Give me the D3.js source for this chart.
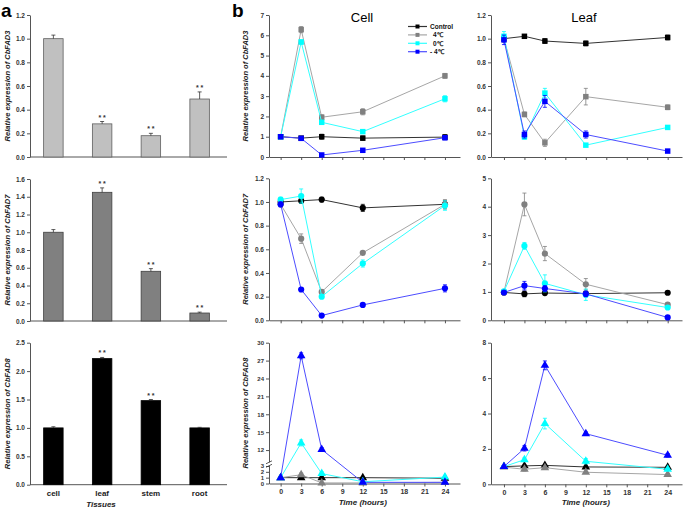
<!DOCTYPE html>
<html>
<head>
<meta charset="utf-8">
<script src="https://cdnjs.cloudflare.com/ajax/libs/d3/7.8.5/d3.min.js"></script>
<style>
  body { margin: 0; background: #fff; }
  text { font-family: "Liberation Sans", Arial, sans-serif; }
</style>
</head>
<body>
<div class="chart"></div>
<script>
// ---- data: panel a (tissues) ----
const tissues = ['cell', 'leaf', 'stem', 'root'];
const fad3Tissue = [1.0, 0.28, 0.18, 0.49];
const fad3TissueErr = [0.03, 0.02, 0.02, 0.06];
const fad3Sig = [false, true, true, true];
const fad7Tissue = [1.0, 1.45, 0.56, 0.09];
const fad7TissueErr = [0.03, 0.05, 0.03, 0.01];
const fad7Sig = [false, true, true, true];
const fad8Tissue = [1.0, 2.22, 1.48, 1.0];
const fad8TissueErr = [0.02, 0.02, 0.02, 0.01];
const fad8Sig = [false, true, true, false];

// ---- data: panel b (time course), rows = Control, 4℃, 0℃, -4℃ ----
const hours = [0, 3, 6, 12, 24];
const hourTicks = [0, 3, 6, 9, 12, 15, 18, 21, 24];
const treatments = ['Control', '4℃', '0℃', '- 4℃'];

const cellFAD3 = [
  [1.0, 0.93, 1.0, 0.93, 0.98],
  [1.0, 6.28, 1.96, 2.23, 4.0],
  [1.0, 5.67, 1.71, 1.25, 2.87],
  [1.0, 0.92, 0.1, 0.33, 0.95]
];
const cellFAD3Err = [
  [0.05, 0.05, 0.12, 0.1, 0.12],
  [0.05, 0.15, 0.12, 0.15, 0.12],
  [0.05, 0.1, 0.08, 0.08, 0.15],
  [0.05, 0.05, 0.03, 0.05, 0.1]
];
const leafFAD3 = [
  [1.0, 1.02, 0.98, 0.96, 1.01],
  [1.0, 0.36, 0.12, 0.51, 0.42],
  [1.02, 0.17, 0.54, 0.1, 0.25],
  [0.99, 0.19, 0.47, 0.19, 0.05]
];
const leafFAD3Err = [
  [0.02, 0.01, 0.02, 0.02, 0.02],
  [0.03, 0.02, 0.03, 0.07, 0.02],
  [0.04, 0.02, 0.04, 0.01, 0.01],
  [0.04, 0.03, 0.05, 0.03, 0.01]
];
const cellFAD7 = [
  [1.0, 1.01, 1.02, 0.95, 0.98],
  [0.98, 0.69, 0.24, 0.57, 0.98],
  [1.02, 1.05, 0.2, 0.48, 0.97],
  [0.98, 0.26, 0.04, 0.13, 0.27]
];
const cellFAD7Err = [
  [0.02, 0.02, 0.02, 0.03, 0.03],
  [0.02, 0.04, 0.02, 0.01, 0.04],
  [0.02, 0.06, 0.01, 0.03, 0.04],
  [0.02, 0.01, 0.01, 0.01, 0.03]
];
const leafFAD7 = [
  [0.98, 0.93, 0.96, 0.94, 0.97],
  [1.0, 4.08, 2.35, 1.27, 0.55],
  [1.02, 2.62, 1.3, 0.9, 0.45],
  [0.98, 1.22, 1.12, 0.93, 0.1]
];
const leafFAD7Err = [
  [0.05, 0.1, 0.05, 0.05, 0.05],
  [0.05, 0.4, 0.25, 0.2, 0.05],
  [0.05, 0.12, 0.3, 0.2, 0.05],
  [0.05, 0.15, 0.1, 0.1, 0.05]
];
const cellFAD8 = [
  [1.0, 1.0, 1.0, 1.0, 0.9],
  [1.0, 1.5, 0.1, 0.1, 0.2],
  [1.0, 13.2, 1.7, 0.3, 1.1],
  [1.0, 27.8, 12.1, 0.2, 0.2]
];
const cellFAD8Err = [
  [0.1, 0.1, 0.1, 0.1, 0.1],
  [0.1, 0.3, 0.05, 0.05, 0.05],
  [0.1, 0.5, 0.3, 0.1, 0.3],
  [0.1, 0.5, 0.3, 0.05, 0.05]
];
const leafFAD8 = [
  [1.0, 1.04, 1.07, 0.98, 0.96],
  [0.97, 0.85, 0.94, 0.68, 0.55],
  [1.0, 1.39, 3.43, 1.3, 0.85],
  [1.0, 2.03, 6.72, 2.86, 1.64]
];
const leafFAD8Err = [
  [0.05, 0.05, 0.05, 0.05, 0.05],
  [0.05, 0.1, 0.05, 0.05, 0.05],
  [0.05, 0.1, 0.3, 0.15, 0.05],
  [0.05, 0.15, 0.25, 0.1, 0.1]
];

const markerColors = ['#000000', '#808080', '#00ffff', '#0000ff'];
const lineColors = ['#333333', '#a6a6a6', '#33ffff', '#4d4dff'];

let svg = d3.select('.chart')
  .append('svg')
    .attr('width', 685)
    .attr('height', 510);

// ---------- panel a ----------
svg.append('text').attr('x', 1).attr('y', 17)
  .style('font-size', '19px').style('font-weight', 'bold').text('a');

let xTissue = d3.scaleBand()
  .domain(tissues)
  .range([29, 224])
  .paddingInner(0.6)
  .paddingOuter(0.3);

let tissueRows = [
  { gene: 'CbFAD3', vals: fad3Tissue, err: fad3TissueErr, sig: fad3Sig, fill: '#c0c0c0', stroke: '#606060', max: 1.2, step: 0.2, fmt: '.1f', y0: 157, y1: 15 },
  { gene: 'CbFAD7', vals: fad7Tissue, err: fad7TissueErr, sig: fad7Sig, fill: '#808080', stroke: '#404040', max: 1.6, step: 0.2, fmt: '.1f', y0: 321, y1: 179 },
  { gene: 'CbFAD8', vals: fad8Tissue, err: fad8TissueErr, sig: fad8Sig, fill: '#000000', stroke: '#000000', max: 2.5, step: 0.5, fmt: '.1f', y0: 484.7, y1: 342.7 }
];

tissueRows.forEach((row, ri) => {
  let y = d3.scaleLinear().domain([0, row.max]).range([row.y0, row.y1]);
  let g = svg.append('g');

  let yAxis = d3.axisLeft(y)
    .tickValues(d3.range(0, row.max + 0.001, row.step))
    .tickFormat(d3.format(row.fmt))
    .tickSize(3)
    .tickSizeOuter(0)
    .tickPadding(2);
  let ya = g.append('g').attr('transform', 'translate(30,0)').call(yAxis);
  styleAxis(ya, 6.5);

  // x axis line
  g.append('line')
    .attr('x1', 30).attr('x2', 227)
    .attr('y1', row.y0).attr('y2', row.y0)
    .attr('stroke', '#555').attr('stroke-width', 1);

  tissues.forEach((t, i) => {
    let x = xTissue(t), w = xTissue.bandwidth(), cx = x + w / 2;
    let v = row.vals[i], e = row.err[i];
    g.append('rect')
      .attr('x', x).attr('y', y(v))
      .attr('width', w).attr('height', row.y0 - y(v))
      .attr('fill', row.fill)
      .attr('stroke', row.stroke).attr('stroke-width', 0.8);
    g.append('line')
      .attr('x1', cx).attr('x2', cx).attr('y1', y(v)).attr('y2', y(v + e))
      .attr('stroke', '#333').attr('stroke-width', 0.8);
    g.append('line')
      .attr('x1', cx - 2).attr('x2', cx + 2).attr('y1', y(v + e)).attr('y2', y(v + e))
      .attr('stroke', '#333').attr('stroke-width', 0.8);
    if (row.sig[i]) {
      g.append('text')
        .attr('x', cx).attr('y', y(v + e) - 2)
        .attr('text-anchor', 'middle')
        .style('font-size', '7px').style('font-weight', 'bold').style('fill', '#333')
        .text('* *');
    }
  });

  yLabel(10, (row.y0 + row.y1) / 2, row.gene);

  if (ri === 2) {
    tissues.forEach(t => {
      svg.append('text')
        .attr('x', xTissue(t) + xTissue.bandwidth() / 2).attr('y', 496)
        .attr('text-anchor', 'middle')
        .style('font-size', '8px').style('font-weight', 'bold').style('fill', '#222')
        .text(t);
    });
    svg.append('text')
      .attr('x', 101).attr('y', 507)
      .attr('text-anchor', 'middle')
      .style('font-size', '8px').style('font-weight', 'bold').style('font-style', 'italic').style('fill', '#222')
      .text('Tissues');
  }
});

// ---------- panel b ----------
svg.append('text').attr('x', 232).attr('y', 17)
  .style('font-size', '19px').style('font-weight', 'bold').text('b');
svg.append('text').attr('x', 362).attr('y', 22).attr('text-anchor', 'middle')
  .style('font-size', '13px').text('Cell');
svg.append('text').attr('x', 584).attr('y', 22).attr('text-anchor', 'middle')
  .style('font-size', '13px').text('Leaf');

let xCell = d3.scaleLinear().domain([-1.7, 26.2]).range([269, 460]);
let xLeaf = d3.scaleLinear().domain([-1.9, 26.1]).range([491, 682]);

let panels = [
  { x: xCell, data: cellFAD3, err: cellFAD3Err, y: d3.scaleLinear().domain([0, 7]).range([157, 15]), ticks: d3.range(0, 8), fmt: d3.format('d'), shape: d3.symbolSquare, size: 30, gene: 'CbFAD3', bottom: false },
  { x: xLeaf, data: leafFAD3, err: leafFAD3Err, y: d3.scaleLinear().domain([0, 1.2]).range([157, 15]), ticks: d3.range(0, 1.21, 0.2), fmt: d3.format('.1f'), shape: d3.symbolSquare, size: 30, bottom: false },
  { x: xCell, data: cellFAD7, err: cellFAD7Err, y: d3.scaleLinear().domain([0, 1.2]).range([320.3, 178.3]), ticks: d3.range(0, 1.21, 0.2), fmt: d3.format('.1f'), shape: d3.symbolCircle, size: 30, gene: 'CbFAD7', bottom: false },
  { x: xLeaf, data: leafFAD7, err: leafFAD7Err, y: d3.scaleLinear().domain([0, 5]).range([320.3, 178.3]), ticks: d3.range(0, 6), fmt: d3.format('d'), shape: d3.symbolCircle, size: 30, bottom: false },
  { x: xCell, data: cellFAD8, err: cellFAD8Err, y: d3.scaleLinear().domain([0, 3, 10, 30]).range([483.5, 466, 462, 342.7]), ticks: [0, 1, 2, 3, 12, 15, 18, 21, 24, 27, 30], fmt: d3.format('d'), shape: d3.symbolTriangle, size: 32, gene: 'CbFAD8', bottom: true, broken: true },
  { x: xLeaf, data: leafFAD8, err: leafFAD8Err, y: d3.scaleLinear().domain([0, 8]).range([484.3, 342.7]), ticks: [0, 2, 4, 6, 8], fmt: d3.format('d'), shape: d3.symbolTriangle, size: 32, bottom: true }
];

panels.forEach(p => {
  let g = svg.append('g');
  let y0 = p.y.range()[0];
  let xl = p.x.range()[0];

  let yAxis = d3.axisLeft(p.y)
    .tickValues(p.ticks)
    .tickFormat(p.fmt)
    .tickSize(3)
    .tickSizeOuter(0)
    .tickPadding(2);
  let ya = g.append('g').attr('transform', `translate(${xl},0)`).call(yAxis);
  styleAxis(ya, 6.5);
  if (p.broken) ya.selectAll('.tick text').style('font-size', '6px');

  let xAxis = d3.axisBottom(p.x)
    .tickValues(hourTicks)
    .tickSize(3)
    .tickSizeOuter(0)
    .tickPadding(3)
    .tickFormat(p.bottom ? d3.format('d') : '');
  let xa = g.append('g').attr('transform', `translate(0,${y0})`).call(xAxis);
  styleAxis(xa, 7);

  if (p.broken) {
    // axis break marks
    let yb = p.y(6);
    g.append('rect').attr('x', xl - 3).attr('y', yb - 2).attr('width', 6).attr('height', 3.5).attr('fill', '#fff');
    [-2, 1.5].forEach(d => {
      g.append('line')
        .attr('x1', xl - 3).attr('x2', xl + 3)
        .attr('y1', yb + d + 1.5).attr('y2', yb + d - 1.5)
        .attr('stroke', '#333').attr('stroke-width', 0.8);
    });
  }

  let line = d3.line().x((d, i) => p.x(hours[i])).y(d => p.y(d));
  let sym = d3.symbol().type(p.shape).size(p.size);

  p.data.forEach((series, si) => {
    g.append('path')
      .attr('d', line(series))
      .attr('fill', 'none')
      .attr('stroke', lineColors[si])
      .attr('stroke-width', 1);
    series.forEach((v, i) => {
      let cx = p.x(hours[i]);
      let e = p.err[si][i];
      let top = p.y(v + e), bot = p.y(Math.max(0, v - e));
      g.append('line').attr('x1', cx).attr('x2', cx).attr('y1', top).attr('y2', bot)
        .attr('stroke', markerColors[si]).attr('stroke-width', 0.8);
      [top, bot].forEach(yy => {
        g.append('line').attr('x1', cx - 2).attr('x2', cx + 2).attr('y1', yy).attr('y2', yy)
          .attr('stroke', markerColors[si]).attr('stroke-width', 0.8);
      });
      g.append('path')
        .attr('d', sym())
        .attr('transform', `translate(${cx},${p.y(v)})`)
        .attr('fill', markerColors[si]);
    });
  });

  if (p.gene) yLabel(248, (p.y.range()[0] + p.y.range()[p.y.range().length - 1]) / 2, p.gene);

  if (p.bottom) {
    svg.append('text')
      .attr('x', p.x(12)).attr('y', 505)
      .attr('text-anchor', 'middle')
      .style('font-size', '8px').style('font-weight', 'bold').style('font-style', 'italic').style('fill', '#222')
      .text('Time (hours)');
  }
});

// legend
let legend = svg.append('g');
treatments.forEach((t, i) => {
  let ly = 26.5 + i * 8.4;
  legend.append('line')
    .attr('x1', 408).attr('x2', 427).attr('y1', ly).attr('y2', ly)
    .attr('stroke', lineColors[i]).attr('stroke-width', 1.2);
  legend.append('path')
    .attr('d', d3.symbol().type(d3.symbolSquare).size(16)())
    .attr('transform', `translate(417.5,${ly})`)
    .attr('fill', markerColors[i]);
  legend.append('text')
    .attr('x', i === 0 || i === 3 ? 430 : 433).attr('y', ly + 2.3)
    .style('font-size', '6.5px').style('font-weight', 'bold').style('fill', '#111')
    .text(t);
});

function styleAxis(sel, fontSize) {
  sel.select('.domain').attr('stroke', '#555');
  sel.selectAll('.tick line').attr('stroke', '#555');
  sel.selectAll('.tick text')
    .style('font-family', '"Liberation Sans", Arial, sans-serif')
    .style('font-size', fontSize + 'px')
    .style('font-weight', 'bold')
    .style('fill', '#333');
}

function yLabel(x, y, gene) {
  let t = svg.append('text')
    .attr('transform', `translate(${x},${y}) rotate(-90)`)
    .attr('text-anchor', 'middle')
    .style('font-size', '7.5px')
    .style('font-style', 'italic')
    .style('font-weight', 'bold')
    .style('fill', '#222');
  t.append('tspan').text('Relative expression of ');
  t.append('tspan').text(gene);
}
</script>
</body>
</html>
